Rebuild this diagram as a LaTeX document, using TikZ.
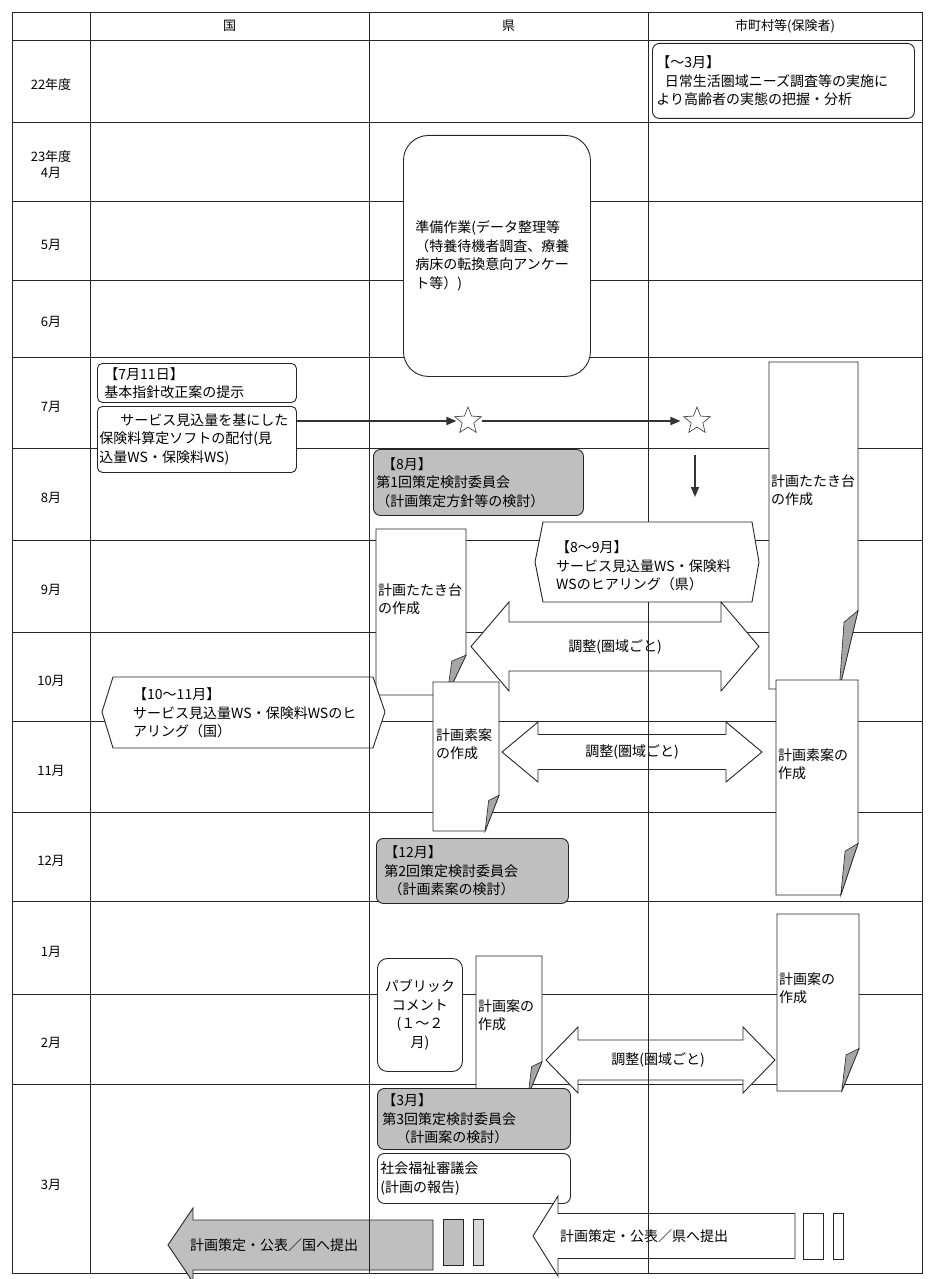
\documentclass[tikz,border=0pt]{standalone}
\usepackage{fontspec}
\setmainfont{Noto Sans CJK JP}
\usetikzlibrary{shapes.geometric,arrows.meta}

% document shape with curled bottom-right corner: x0, y0, x1, y1
\newcommand\docshape[4]{%
  \pgfmathsetmacro\dW{#3-#1}\pgfmathsetmacro\dH{#4-#2}%
  \pgfmathsetmacro\cw{0.21*\dW}\pgfmathsetmacro\ch{0.24*\dH}%
  \filldraw[outl, fill=white] (#1,#2) -- (#3,#2) -- (#3,#4-\ch) -- (#3-\cw,#4) -- (#1,#4) -- cycle;
  \filldraw[outl, line width=0.6pt, fill=black!35] (#3,#4-\ch) -- (#3-0.75*\cw,#4-0.85*\ch) -- (#3-\cw,#4) -- cycle;
}
% double block arrow: x0, x1, yc, shaft half, head half, head length, style
\newcommand\blockdbl[7]{%
  \filldraw[#7] (#1,#3) -- (#1+#6,#3-#5) -- (#1+#6,#3-#4) -- (#2-#6,#3-#4) -- (#2-#6,#3-#5) -- (#2,#3)
    -- (#2-#6,#3+#5) -- (#2-#6,#3+#4) -- (#1+#6,#3+#4) -- (#1+#6,#3+#5) -- cycle;
}
% left block arrow: tip x, right x, yc, shaft half, head half, head length, style
\newcommand\blockleft[7]{%
  \filldraw[#7] (#1,#3) -- (#1+#6,#3-#5) -- (#1+#6,#3-#4) -- (#2,#3-#4) -- (#2,#3+#4)
    -- (#1+#6,#3+#4) -- (#1+#6,#3+#5) -- cycle;
}

\begin{document}
\begin{tikzpicture}[x=1pt,y=-1pt,font=\fontsize{14}{18.5}\selectfont,
  grid/.style={line width=0.8pt, draw=black!85},
  outl/.style={draw=black!85, line width=0.9pt},
  rbox/.style={outl, fill=white, rounded corners=7pt, align=left, inner xsep=4pt, inner ysep=2pt, anchor=north west},
  gbox/.style={rbox, fill=black!25},
  txt/.style={align=left, inner sep=0pt, anchor=west},
  conn/.style={line width=1.6pt, draw=black!80, -{Triangle[length=10pt,width=8pt]}},
  lbl/.style={font=\fontsize{13}{16}\selectfont, align=center, inner sep=0pt},
  starnode/.style={star, star points=5, star point ratio=2.3, draw=black!80, line width=0.6pt, minimum size=28pt, inner sep=0pt, fill=white},
  smallrect/.style={outl, minimum width=#1, minimum height=46pt, inner sep=0pt, anchor=north west}]

\fill[white] (0,0) rectangle (935,1279);
\useasboundingbox (0,0) rectangle (935,1279);

% grid
\foreach \y in {40,122,201,280,357,448,540,632,721,812,901,994,1084}
  \draw[grid] (12,\y) -- (922,\y);
\draw[grid] (12,12) rectangle (922,1273);
\foreach \x in {90,369,648} \draw[grid] (\x,12) -- (\x,1273);

% header
\node[lbl] (hkuni) at (229.5,26) {国};
\node[lbl] (hken) at (508.5,26) {県};
\node[lbl] (hshi) at (785,26) {市町村等(保険者)};

% row labels
\node[lbl] (r22) at (51,85) {22年度};
\node[lbl] (r4) at (51,165) {23年度\\4月};
\node[lbl] (r5) at (51,245) {5月};
\node[lbl] (r6) at (51,322) {6月};
\node[lbl] (r7) at (51,407) {7月};
\node[lbl] (r8) at (51,498) {8月};
\node[lbl] (r9) at (51,590) {9月};
\node[lbl] (r10) at (51,681) {10月};
\node[lbl] (r11) at (51,771) {11月};
\node[lbl] (r12) at (51,861) {12月};
\node[lbl] (r1) at (51,952) {1月};
\node[lbl] (r2) at (51,1043) {2月};
\node[lbl] (r3) at (51,1185) {3月};

% boxes
\node[rbox, minimum width=262pt, minimum height=75pt, text width=254pt] (b22) at (652,43)
  {【～3月】\\\hspace*{0.6em}日常生活圏域ニーズ調査等の実施に\\より高齢者の実態の把握・分析};
\node[rbox, rounded corners=25pt, minimum width=187pt, minimum height=241pt, text width=163pt, inner xsep=12pt] (prep) at (403,135)
  {準備作業(データ整理等\\（特養待機者調査、療養\\病床の転換意向アンケー\\ト等）)};
\node[rbox, rounded corners=5pt, minimum width=199pt, minimum height=39pt, text width=185pt, inner xsep=7pt] (b711) at (97,363)
  {【7月11日】\\基本指針改正案の提示};
\node[rbox, rounded corners=5pt, minimum width=199pt, minimum height=66pt, text width=195pt, inner xsep=2pt] (bsoft) at (97,406)
  {\hspace*{1.5em}サービス見込量を基にした\\保険料算定ソフトの配付(見\\込量WS・保険料WS)};
\node[gbox, minimum width=210pt, minimum height=66pt, text width=204pt, inner xsep=3pt] (g8) at (373,449)
  {\hspace*{0.4em}【8月】\\第1回策定検討委員会\\（計画策定方針等の検討）};

% hexagon 8-9
\draw[outl, fill=white] (543,522) -- (752,522) -- (759,562) -- (752,602) -- (543,602) -- (535,562) -- cycle;
\node[txt] (h89) at (556,566) {【8～9月】\\サービス見込量WS・保険料\\WSのヒアリング（県）};

% docs
\docshape{769}{362}{858}{689}
\node[txt] (d1t) at (771,490) {計画たたき台\\の作成};
\docshape{376}{529}{466}{695}
\node[txt] (d2t) at (378,599) {計画たたき台\\の作成};
\docshape{433}{682}{499}{831}
\node[txt] (d3t) at (436,744) {計画素案\\の作成};
\docshape{776}{680}{858}{895}
\node[txt] (d4t) at (778,764) {計画素案の\\作成};
\docshape{476}{956}{542}{1095}
\node[txt] (d5t) at (478,1015) {計画案の\\作成};
\docshape{777}{914}{859}{1091}
\node[txt] (d6t) at (779,988) {計画案の\\作成};

% adjustment arrows
\blockdbl{471}{759}{646.5}{24.5}{44.5}{38}{outl, fill=white}
\node (a1t) at (615,647) {調整(圏域ごと)};
\blockdbl{502}{762}{752}{17.5}{30}{36}{outl, fill=white}
\node (a2t) at (632,752) {調整(圏域ごと)};
\blockdbl{546}{775}{1060}{20}{33}{32}{outl, fill=white}
\node (a3t) at (658,1060) {調整(圏域ごと)};

% hexagon 10-11
\draw[outl, fill=white] (113,677) -- (373,677) -- (385,712) -- (373,748) -- (113,748) -- (102,712) -- cycle;
\node[txt] (h1011) at (133,713) {【10～11月】\\サービス見込量WS・保険料WSのヒ\\アリング（国）};

% Dec, Jan-Feb, Mar
\node[gbox, minimum width=192pt, minimum height=65pt, text width=176pt, inner xsep=8pt] (g12) at (376,838)
  {【12月】\\第2回策定検討委員会\\\hspace*{0.3em}（計画素案の検討）};
\node[rbox, rounded corners=10pt, align=center, minimum width=85pt, minimum height=113pt, text width=79pt, inner xsep=3pt] (pub) at (377,958)
  {パブリック\\コメント\\(１～２\\月)};
\node[gbox, minimum width=193pt, minimum height=61pt, text width=183pt, inner xsep=5pt] (g3) at (377,1088)
  {【3月】\\第3回策定検討委員会\\\hspace*{1em}（計画案の検討）};
\node[rbox, minimum width=193pt, minimum height=50pt, text width=187pt, inner xsep=3pt] (shakai) at (377,1153)
  {社会福祉審議会\\(計画の報告)};

% bottom arrows
\blockleft{168}{433}{1245}{25}{37}{25}{outl, fill=black!25}
\node[txt] (bl) at (190,1245) {計画策定・公表／国へ提出};
\node[smallrect=20pt, fill=black!25] (bl1) at (443,1219) {};
\node[smallrect=10pt, fill=black!15] (bl2) at (473,1219) {};
\blockleft{533}{795}{1236}{22.5}{40}{25}{outl, fill=white}
\node[txt] (br) at (560,1236) {計画策定・公表／県へ提出};
\node[smallrect=20pt, fill=white] (br1) at (803,1213) {};
\node[smallrect=10pt, fill=white] (br2) at (833,1213) {};

% vertical column lines visible through shapes
\draw[grid] (369,12) -- (369,1273);
\draw[grid] (648,12) -- (648,522);
\draw[grid] (648,602) -- (648,1273);

% stars and connectors
\node[starnode] (s1) at (468,421) {};
\node[starnode] (s2) at (697,421) {};
\draw[conn, shorten >=3pt] (bsoft.east |- s1) -- (s1);
\draw[conn, shorten <=5pt, shorten >=8pt] (s1) -- (s2);
\coordinate (dn1) at (695,455);
\coordinate (dn2) at (695,497);
\draw[conn] (dn1) -- (dn2);
\end{tikzpicture}
\end{document}
